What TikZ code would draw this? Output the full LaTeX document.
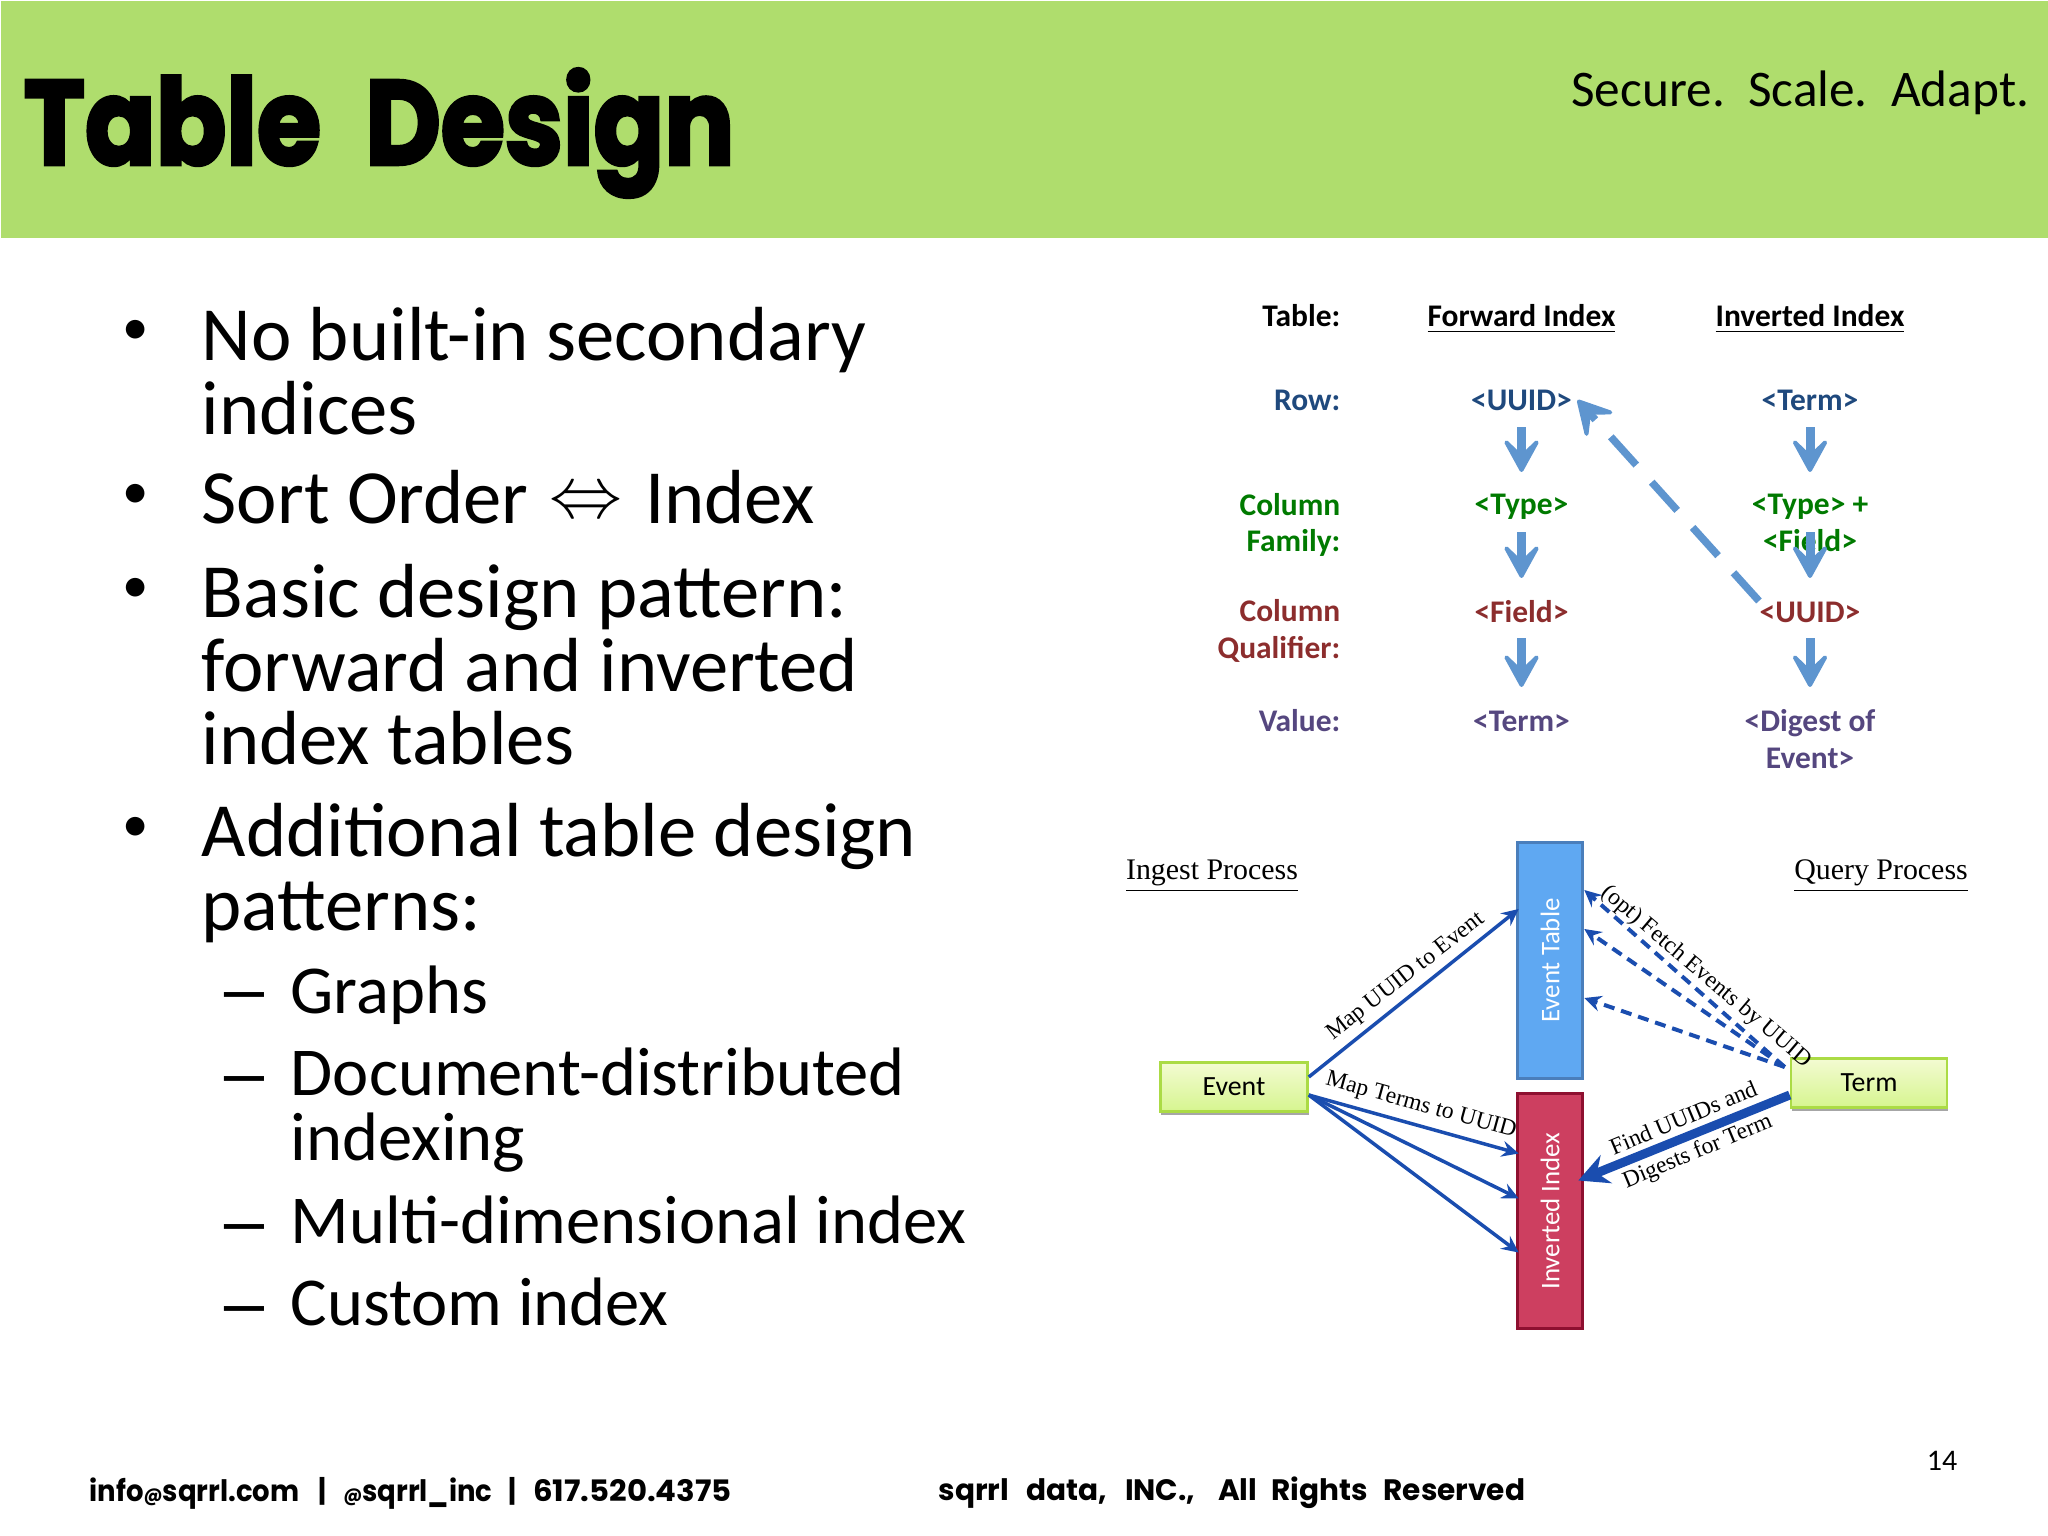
\documentclass[tikz,border=0pt]{standalone}
\usepackage{fontspec}
\usepackage{amsmath}
\usepackage{amssymb}
\setmainfont{Carlito}
\newfontfamily\geofont{Poppins}
\newfontfamily\titlefont[FakeBold=3]{Poppins Bold}
\newfontfamily\palfont{Liberation Serif}
\usetikzlibrary{arrows.meta,shadows}
\definecolor{bandgreen}{HTML}{AFDD6D}
\definecolor{flowblue}{HTML}{5E95CF}
\definecolor{rowblue}{HTML}{1F497D}
\definecolor{cfgreen}{HTML}{007A00}
\definecolor{cqred}{HTML}{8C2D2D}
\definecolor{valpurple}{HTML}{55477F}
\definecolor{linkblue}{HTML}{1A4DAF}
\definecolor{barblue}{HTML}{5FA8F2}
\definecolor{barblueline}{HTML}{4A7EBB}
\definecolor{barred}{HTML}{CD3F60}
\definecolor{barredline}{HTML}{8E1030}
\definecolor{boxtop}{HTML}{F3FBD2}
\definecolor{boxbottom}{HTML}{D6F58F}
\definecolor{boxline}{HTML}{ABDB45}
\tikzset{
  bodytext/.style={anchor=north west,inner sep=0pt,align=left,font=\fontsize{21.8}{20.8}\selectfont},
  subtext/.style={anchor=north west,inner sep=0pt,align=left,font=\fontsize{19.5}{18.6}\selectfont},
  bulletmark/.style={inner sep=0pt,font=\fontsize{15}{16}\selectfont},
  dashmark/.style={inner sep=0pt,xscale=1.45,font=\fontsize{22}{22}\selectfont},
  cell/.style={inner sep=0pt,align=center,font=\fontsize{8.95}{10.4}\selectfont\bfseries},
  rowname/.style={inner sep=0pt,align=right,anchor=east,font=\fontsize{8.95}{10.4}\selectfont\bfseries},
  flowarrow/.style={draw=flowblue,line width=0.09cm,-{Stealth[round,length=0.42cm,width=0.46cm,inset=0.22cm,line width=0.04cm]}},
  hop/.style={draw=flowblue,line width=0.075cm,dash pattern=on 0.38cm off 0.23cm,-{Stealth[round,length=0.42cm,width=0.46cm,inset=0.2cm,line width=0.04cm]}},
  greenbox/.style={draw=boxline,line width=0.025cm,top color=boxtop,bottom color=boxbottom,
    minimum width=1.47cm,minimum height=0.49cm,inner sep=0pt,font=\fontsize{7.9}{9}\selectfont,
    drop shadow={shadow xshift=0.01cm,shadow yshift=-0.03cm,fill=black,opacity=0.35}},
  bar/.style={line width=0.03cm,minimum width=0.655cm,minimum height=2.35cm,inner sep=0pt,text=white,font=\fontsize{7.65}{9}\selectfont},
  link/.style={draw=linkblue,line width=0.035cm,-{Stealth[length=0.17cm,width=0.16cm,inset=0.06cm]}},
  dashlink/.style={link,line width=0.04cm,dash pattern=on 0.11cm off 0.07cm},
  serifnote/.style={inner sep=0pt,align=center,font=\palfont\fontsize{6.7}{10}\selectfont},
  heading/.style={serifnote,font=\palfont\fontsize{8.5}{10}\selectfont},
}
\begin{document}
\begin{tikzpicture}[x=0.01cm,y=-0.01cm]
  \useasboundingbox (0,0) rectangle (2048,1536);
  % header
  \node[fill=bandgreen,minimum width=20.48cm,minimum height=2.37cm,inner sep=0pt,anchor=north west] (band) at (0,0) {};
  \node[inner sep=0pt,xscale=0.87,font=\titlefont\fontsize{34}{40}\selectfont] (title) at (379,133) {Table\ \ Design};
  \node[inner sep=0pt,anchor=east,font=\fontsize{14.6}{16}\selectfont] (motto) at (2030,93) {Secure.\ \ Scale.\ \ Adapt.};

  % bullets
  \node[bulletmark] (bulA) at (136,332) {•};
  \node[bodytext] (itemA) at (201,307) {No built-in secondary\\indices};
  \node[bulletmark] (bulB) at (136,496) {•};
  \node[bodytext] (itemB) at (201,470) {Sort Order\hspace{1pt} \raisebox{1.9pt}{\ensuremath{\Leftrightarrow}}\hspace{1.5pt} Index};
  \node[bulletmark] (bulC) at (136,590) {•};
  \node[bodytext] (itemC) at (201,564) {Basic design pattern:\\forward and inverted\\index tables};
  \node[bulletmark] (bulD) at (136,829) {•};
  \node[bodytext] (itemD) at (201,803) {Additional table design\\patterns:};
  \node[dashmark] (subA) at (244,1005) {–};
  \node[subtext] (subAt) at (290,965) {Graphs};
  \node[dashmark] (subB) at (244,1089) {–};
  \node[subtext] (subBt) at (290,1047) {Document-distributed\\indexing};
  \node[dashmark] (subC) at (244,1237) {–};
  \node[subtext] (subCt) at (290,1195) {Multi-dimensional index};
  \node[dashmark] (subD) at (244,1319) {–};
  \node[subtext] (subDt) at (290,1277) {Custom index};

  % key layout table
  \node[rowname] (hTable) at (1341,316) {Table:};
  \node[cell] (hFwd) at (1521.5,319) {\underline{Forward Index}};
  \node[cell] (hInv) at (1810,319) {\underline{Inverted Index}};
  \node[rowname,text=rowblue] (lRow) at (1341,400) {Row:};
  \node[cell,text=rowblue] (fwdUuid) at (1521.5,400) {<UUID>};
  \node[cell,text=rowblue] (invTerm) at (1810,400) {<Term>};
  \node[rowname,text=cfgreen] (lFam) at (1341,525) {Column\\Family:};
  \node[cell,text=cfgreen] (fwdType) at (1521.5,507) {<Type>};
  \node[cell,text=cfgreen] (invType) at (1810,523) {<Type> +\\<Field>};
  \node[rowname,text=cqred] (lQual) at (1341,631) {Column\\Qualifier:};
  \node[cell,text=cqred] (fwdField) at (1521.5,612) {<Field>};
  \node[cell,text=cqred] (invUuid) at (1810,612) {<UUID>};
  \node[rowname,text=valpurple] (lVal) at (1341,721) {Value:};
  \node[cell,text=valpurple] (fwdTerm) at (1521.5,721) {<Term>};
  \node[cell,text=valpurple] (invDigest) at (1810,739) {<Digest of\\Event>};
  \draw[flowarrow,shorten <=0.27cm,shorten >=0.35cm] (fwdUuid.center) -- (fwdType.center);
  \draw[flowarrow,shorten <=0.25cm,shorten >=0.34cm] (fwdType.center) -- (fwdField.center);
  \draw[flowarrow,shorten <=0.26cm,shorten >=0.34cm] (fwdField.center) -- (fwdTerm.center);
  \draw[flowarrow,shorten <=0.27cm,shorten >=0.51cm] (invTerm.center) -- (invType.center);
  \draw[flowarrow,shorten <=0.09cm,shorten >=0.34cm] (invType.center) -- (invUuid.center);
  \draw[flowarrow,shorten <=0.26cm,shorten >=0.52cm] (invUuid.center) -- (invDigest.center);
  \draw[hop] (invUuid.north west) -- ([xshift=0.05cm]fwdUuid.east);

  % data flow
  \node[heading] (ingest) at (1212,876) {\underline{Ingest Process}};
  \node[heading] (query) at (1881,876) {\underline{Query Process}};
  \node[bar,fill=barblue,draw=barblueline] (eventTable) at (1550,960.5) {\rotatebox{90}{Event Table}};
  \node[bar,fill=barred,draw=barredline] (invIndex) at (1550,1211) {\rotatebox{90}{Inverted Index}};
  \node[greenbox] (event) at (1234,1087) {\raisebox{-0.7pt}{Event}};
  \node[greenbox,minimum width=1.56cm] (term) at (1869,1083) {\raisebox{-0.7pt}{Term}};
  \draw[link] ([yshift=0.10cm]event.east) -- ([xshift=0.03cm,yshift=0.515cm]eventTable.west);
  \draw[link] ([yshift=-0.08cm]event.east) -- ([xshift=0.03cm,yshift=0.575cm]invIndex.west);
  \draw[link] ([yshift=-0.08cm]event.east) -- ([xshift=0.03cm,yshift=0.125cm]invIndex.west);
  \draw[link] ([yshift=-0.08cm]event.east) -- ([xshift=0.03cm,yshift=-0.415cm]invIndex.west);
  \draw[dashlink] ([xshift=-0.05cm,yshift=0.16cm]term.west) -- ([yshift=0.705cm]eventTable.east);
  \draw[dashlink] ([xshift=-0.05cm,yshift=0.16cm]term.west) -- ([yshift=0.315cm]eventTable.east);
  \draw[dashlink] ([xshift=-0.05cm,yshift=0.16cm]term.west) -- ([yshift=-0.375cm]eventTable.east);
  \draw[draw=linkblue,line width=0.09cm,-{Stealth[length=0.3cm,width=0.3cm,inset=0.1cm]}] ([yshift=-0.12cm]term.west) -- ([xshift=-0.06cm,yshift=0.305cm]invIndex.east);
  \node[serifnote,rotate=38] (mapEvent) at (1406,977) {Map UUID to Event};
  \node[serifnote,rotate=-15.5] (mapTerms) at (1421,1106) {Map Terms to UUID};
  \node[serifnote,rotate=-40.3] (fetch) at (1706,977) {(opt) Fetch Events by UUID};
  \node[serifnote,rotate=22.8] (find) at (1691,1136) {Find UUIDs and\\Digests for Term};

  % footer
  \node[inner sep=0pt,anchor=west,xscale=0.93,font=\geofont\bfseries\fontsize{8.4}{10}\selectfont] (contact) at (89,1493) {info{\fontsize{5.4}{6}\selectfont @}sqrrl.com\hspace{6pt}|\hspace{5pt}{\fontsize{5.4}{6}\selectfont @}sqrrl\_inc\hspace{5pt}|\hspace{5pt}\scalebox{1.12}[1]{617.520.4375}};
  \node[inner sep=0pt,anchor=west,font=\geofont\bfseries\fontsize{8.4}{10}\selectfont] (rights) at (938,1493) {sqrrl\hspace{5pt}data,\hspace{5pt}INC.,\hspace{6.5pt}All\hspace{4pt}Rights\hspace{4.5pt}Reserved};
  \node[inner sep=0pt,font=\fontsize{8.5}{10}\selectfont] (pageno) at (1942,1461) {14};
\end{tikzpicture}
\end{document}
